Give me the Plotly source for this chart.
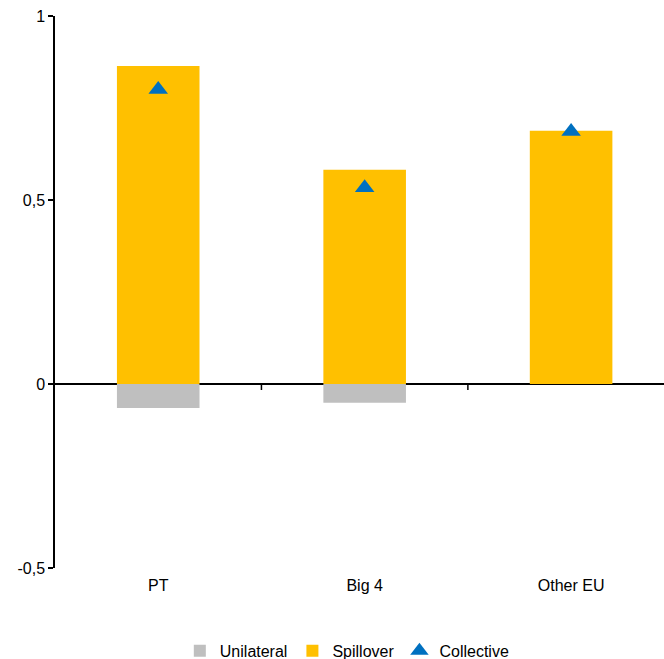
import plotly.graph_objects as go

categories = ["PT", "Big 4", "Other EU"]
unilateral = [-0.065, -0.051, 0.0]
spillover = [0.864, 0.582, 0.688]
collective = [0.80, 0.533, 0.686]

ytick_vals = [-0.5, 0, 0.5, 1]
ytick_text = ["-0,5", "0", "0,5", "1"]

FONT = "Liberation Sans, Arial, sans-serif"

fig = go.Figure()
fig.add_trace(go.Bar(x=categories, y=unilateral, name="Unilateral",
                     marker=dict(color="#BFBFBF", line=dict(width=0)), width=0.4))
fig.add_trace(go.Bar(x=categories, y=spillover, name="Spillover",
                     marker=dict(color="#FFC000", line=dict(width=0)), width=0.4))
fig.add_trace(go.Scatter(x=categories, y=collective, name="Collective", mode="markers",
                         marker=dict(symbol="triangle-up", size=17, color="#0070C0")))

# category separator ticks on the zero line
for xv in [0.5, 1.5]:
    fig.add_shape(type="line", xref="x", yref="y", x0=xv, x1=xv,
                  ysizemode="pixel", yanchor=0, y0=0, y1=-6,
                  line=dict(color="black", width=1.5))

fig.update_layout(
    width=664, height=659,
    margin=dict(l=55, r=0, t=16, b=91, autoexpand=False),
    barmode="relative",
    plot_bgcolor="white", paper_bgcolor="white",
    font=dict(family=FONT, size=16, color="black"),
    showlegend=True,
    legend=dict(orientation="h", x=0.48, xanchor="center", y=-0.15, yanchor="middle",
                font=dict(size=16), itemwidth=30, traceorder="normal",
                bgcolor="rgba(0,0,0,0)"),
    xaxis=dict(range=[-0.5, 2.45], showline=False, showgrid=False, zeroline=False,
               ticks="", tickfont=dict(size=16), ticklabelstandoff=6, fixedrange=True),
    yaxis=dict(range=[-0.5, 1], tickvals=ytick_vals, ticktext=ytick_text,
               showline=True, linecolor="black", linewidth=1.5,
               ticks="outside", ticklen=5, tickcolor="black", tickwidth=1.5,
               showgrid=False, zeroline=True, zerolinecolor="black", zerolinewidth=1.5,
               tickfont=dict(size=16)),
)

fig.write_html("out.html")
